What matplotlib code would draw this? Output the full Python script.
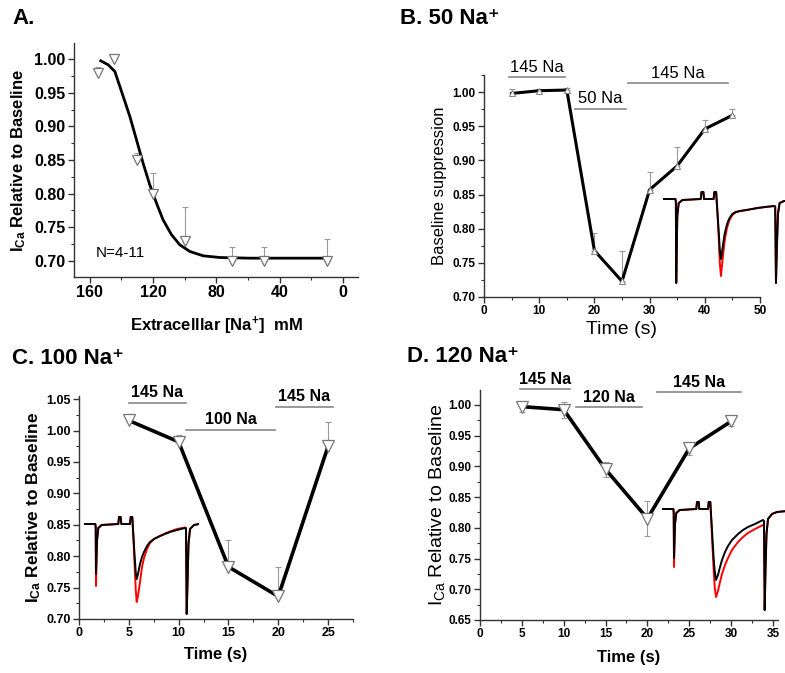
import matplotlib
matplotlib.use("Agg")
import matplotlib.pyplot as plt
from matplotlib.ticker import MultipleLocator, FormatStrFormatter

plt.rcParams['font.family'] = ['Liberation Sans', 'DejaVu Sans']
plt.rcParams['mathtext.fontset'] = 'custom'
plt.rcParams['mathtext.rm'] = 'Liberation Sans'
plt.rcParams['mathtext.bf'] = 'Liberation Sans:bold'
plt.rcParams['mathtext.it'] = 'Liberation Sans:italic'

#
# Panel A: dose response vs extracellular Na
#
a_na = [155, 145, 130, 120, 100, 70, 50, 10]
a_ica = [0.980, 1.000, 0.850, 0.800, 0.730, 0.700, 0.700, 0.700]
a_err = [0.008, 0.0, 0.010, 0.030, 0.050, 0.020, 0.020, 0.032]
a_fit_na = [153.1, 148.4, 144.2, 138.9, 134.7, 130.5, 126.3, 122.1, 117.9,
            113.7, 108.4, 103.2, 96.8, 88.4, 77.9, 58.9, 10.5]
a_fit_ica = [0.9975, 0.9916, 0.9817, 0.9445, 0.9147, 0.880, 0.845, 0.813,
             0.786, 0.761, 0.739, 0.724, 0.714, 0.7075, 0.705, 0.704, 0.704]

#
# Panel B: 50 Na
#
b_t = [5, 10, 15, 20, 25, 30, 35, 40, 45]
b_val = [0.998, 1.002, 1.003, 0.768, 0.723, 0.857, 0.892, 0.946, 0.966]
b_err = [0.007, 0.002, 0.003, 0.026, 0.045, 0.026, 0.027, 0.013, 0.009]

#
# Panel C: 100 Na
#
c_t = [5, 10, 15, 20, 25]
c_val = [1.016, 0.982, 0.783, 0.736, 0.975]
c_err = [0.010, 0.011, 0.042, 0.046, 0.038]

#
# Panel D: 120 Na
#
d_t = [5, 10, 15, 20, 25, 30]
d_val = [0.997, 0.992, 0.895, 0.815, 0.929, 0.973]
d_err = [0.009, 0.013, 0.012, 0.029, 0.011, 0.008]

#
# Solution bars: (label, start, end)
#
b_bars = [("145 Na", 4.6, 14.6), ("50 Na", 16.4, 25.8), ("145 Na", 26.1, 44.2)]
b_bar_y = [1.0215, 0.975, 1.0127]
c_bars = [("145 Na", 5.05, 10.7), ("100 Na", 10.7, 19.7), ("145 Na", 19.8, 25.45)]
c_bar_y = [1.044, 1.001, 1.038]
d_bars = [("145 Na", 4.8, 10.8), ("120 Na", 11.5, 19.4), ("145 Na", 21.1, 31.2)]
d_bar_y = [1.0255, 0.9957, 1.020]

#
# Example current traces (arbitrary units, baseline = 0)
#
tr_t = [0, 11.3, 11.7, 12.0, 13.0, 14.3, 17.7, 34.3, 35.0, 36.7, 37.3, 46.0,
        46.7, 48.3, 49.3, 50.5, 51.7, 52.7, 54.0, 56.0, 58.0, 60.0, 63.0,
        66.0, 70.0, 76.0, 81.0, 86.0, 93.0, 101.0, 102.0, 102.7, 103.5,
        104.5, 106.0, 110.0, 115.0, 125.0]
tr_b_black = [0, 0, -3, -84, -17, -4, -1, 0, 7, 7, 0, 0, 7, 7,
              -10, -30, -52, -60, -50, -35, -26, -20, -15, -13, -12, -11,
              -10, -9, -8, -7, -7.5, -84, -50, -15, -4, -2, -2, -2]
tr_b_red = [0, 0, -3, -84, -17, -4, -1, 0, 7, 7, 0, 0, 7, 7,
            -10, -35, -65, -77, -62, -42, -30, -22, -16, -13.5, -12, -11,
            -10, -9, -8, -7, -7.5, -84, -50, -15, -4, -2, -2, -2]
tr_c_black = [0, 0, -3, -50, -17, -4, -1, 0, 7, 7, 0, 0, 7, 7,
              -10, -30, -48, -55, -50, -40, -33, -28, -22, -18, -15, -12,
              -10, -8, -6, -4, -4.5, -90, -60, -20, -5, -1, 0, 0]
tr_c_red = [0, 0, -3, -62, -17, -4, -1, 0, 7, 7, 0, 0, 7, 7,
            -12, -38, -65, -78, -72, -58, -43, -34, -25, -19, -15, -12,
            -9.5, -7.5, -5, -3.5, -4, -90, -60, -20, -5, -1, 0, 0]
tr_d_black = [0, 0, -3, -49, -15, -4, -1, 0, 7, 7, 0, 0, 7, 7,
              -10, -30, -50, -62, -71, -66, -58, -51, -43, -37, -31, -25,
              -21, -18, -15, -11, -12, -101, -60, -25, -10, -5, -3, -2]
tr_d_red = [0, 0, -3, -58, -15, -4, -1, 0, 7, 7, 0, 0, 7, 7,
            -12, -38, -62, -78, -88, -82, -73, -65, -56, -49, -41, -33,
            -28, -24, -20, -16, -17, -101, -60, -25, -10, -5, -3, -2]

W, H = 785, 673
fig = plt.figure(figsize=(W / 100.0, H / 100.0), dpi=100)


def px_axes(l, t, r, b):
    return fig.add_axes([l / W, 1 - b / H, (r - l) / W, (b - t) / H])


def style(ax, xmaj, ymaj, fs):
    ax.spines['top'].set_visible(False)
    ax.spines['right'].set_visible(False)
    for s in ['left', 'bottom']:
        ax.spines[s].set_linewidth(1.0)
        ax.spines[s].set_color('#333333')
    ax.xaxis.set_major_locator(MultipleLocator(xmaj))
    ax.xaxis.set_minor_locator(MultipleLocator(xmaj / 2.0))
    ax.yaxis.set_major_locator(MultipleLocator(ymaj))
    ax.yaxis.set_minor_locator(MultipleLocator(ymaj / 2.0))
    ax.yaxis.set_major_formatter(FormatStrFormatter('%.2f'))
    ax.tick_params(which='major', direction='out', length=4, width=1,
                   labelsize=fs, color='#333333', pad=2)
    ax.tick_params(which='minor', direction='out', length=2.5, width=0.8,
                   color='#333333')
    plt.setp(ax.get_xticklabels(), fontweight='bold')
    plt.setp(ax.get_yticklabels(), fontweight='bold')


def trace_inset(x0, y0, sx, tend, black, red):
    # x0, y0: pixel where the trace baseline starts
    ia = fig.add_axes([x0 / W, 1 - (y0 + 110) / H, tend * sx / W, 125.0 / H])
    ia.plot(tr_t, red, color='red', lw=1.4)
    ia.plot(tr_t, black, color='black', lw=1.4)
    ia.set_xlim(0, tend)
    ia.set_ylim(-110, 15)
    ia.axis('off')
    return ia


def bars(ax, specs, ys, bold, fs):
    for (txt, x1, x2), y in zip(specs, ys):
        ax.plot([x1, x2], [y, y], color='#888888', lw=1.2, clip_on=False)
        ax.text((x1 + x2) / 2.0, y + 0.004, txt, ha='center', va='bottom',
                fontsize=fs, fontweight='bold' if bold else 'normal')


#
# A
#
ax = px_axes(74, 43, 358, 277)
ax.set_xlim(170, -9.5)
ax.set_ylim(0.676, 1.024)
style(ax, 40, 0.05, 11.5)
ax.errorbar(a_na, a_ica, yerr=[[0] * len(a_err), a_err], fmt='none',
            ecolor='#999999', elinewidth=0.8, capsize=2.5, capthick=0.8)
ax.plot(a_fit_na, a_fit_ica, color='black', lw=2.0)
ax.plot(a_na, a_ica, 'v', mfc='white', mec='#777777', ms=7, mew=0.9)
ax.text(156, 0.712, "N=4-11", fontsize=11, va='center')
ax.set_ylabel(r"$\mathbf{I_{Ca}}$ Relative to Baseline", fontsize=12,
              fontweight='bold')
ax.yaxis.set_label_coords(-0.162, 0.5)
ax.set_xlabel(r"Extracelllar [Na$^{\mathbf{+}}$]  mM", fontsize=12,
              fontweight='bold')
ax.xaxis.set_label_coords(0.5, -0.16)
fig.text(12 / W, 1 - 8 / H, "A.", fontsize=16, fontweight='bold', va='top')

#
# B
#
ax = px_axes(484, 75, 760, 297)
ax.set_xlim(0, 50)
ax.set_ylim(0.70, 1.025)
style(ax, 10, 0.05, 8.5)
trace_inset(663, 199, 1.1, 125, tr_b_black, tr_b_red)
ax.errorbar(b_t, b_val, yerr=[[0] * len(b_err), b_err], fmt='none',
            ecolor='#999999', elinewidth=0.8, capsize=2, capthick=0.8)
ax.plot(b_t, b_val, color='black', lw=2.2)
ax.plot(b_t, b_val, '^', mfc='white', mec='#888888', ms=4.5, mew=0.8)
bars(ax, b_bars, b_bar_y, False, 12)
ax.set_ylabel("Baseline suppression", fontsize=12)
ax.yaxis.set_label_coords(-0.134, 0.5)
ax.set_xlabel("Time (s)", fontsize=14)
ax.xaxis.set_label_coords(0.5, -0.11)
fig.text(400 / W, 1 - 8 / H, "B. 50 Na\u207a", fontsize=16, fontweight='bold',
         va='top')

#
# C
#
ax = px_axes(79, 396, 353, 619)
ax.set_xlim(0, 27.5)
ax.set_ylim(0.70, 1.055)
style(ax, 5, 0.05, 9)
trace_inset(84, 524, 1.0, 115, tr_c_black, tr_c_red)
ax.errorbar(c_t, c_val, yerr=[[0] * len(c_err), c_err], fmt='none',
            ecolor='#999999', elinewidth=0.8, capsize=2.5, capthick=0.8)
ax.plot(c_t, c_val, color='black', lw=2.6)
ax.plot(c_t, c_val, 'v', mfc='white', mec='#777777', ms=8, mew=0.9)
bars(ax, c_bars, c_bar_y, True, 11.5)
ax.set_ylabel(r"$\mathbf{I_{Ca}}$ Relative to Baseline", fontsize=12.5,
              fontweight='bold')
ax.yaxis.set_label_coords(-0.131, 0.5)
ax.set_xlabel("Time (s)", fontsize=12, fontweight='bold')
ax.xaxis.set_label_coords(0.5, -0.125)
fig.text(12 / W, 1 - 348 / H, "C. 100 Na\u207a", fontsize=16,
         fontweight='bold', va='top')

#
# D
#
ax = px_axes(480, 390, 778, 620)
ax.set_xlim(0, 35.6)
ax.set_ylim(0.65, 1.024)
style(ax, 5, 0.05, 8.5)
trace_inset(662, 509, 1.0, 125, tr_d_black, tr_d_red)
ax.errorbar(d_t, d_val, yerr=d_err, fmt='none', ecolor='#999999',
            elinewidth=0.8, capsize=2.5, capthick=0.8)
ax.plot(d_t, d_val, color='black', lw=2.6)
ax.plot(d_t, d_val, 'v', mfc='white', mec='#777777', ms=8, mew=0.9)
bars(ax, d_bars, d_bar_y, True, 11.5)
ax.set_ylabel(r"$\mathregular{I_{Ca}}$ Relative to Baseline", fontsize=14)
ax.yaxis.set_label_coords(-0.111, 0.5)
ax.set_xlabel("Time (s)", fontsize=12, fontweight='bold')
ax.xaxis.set_label_coords(0.5, -0.13)
fig.text(407 / W, 1 - 346 / H, "D. 120 Na\u207a", fontsize=16,
         fontweight='bold', va='top')

fig.savefig("out.png", dpi=100)
